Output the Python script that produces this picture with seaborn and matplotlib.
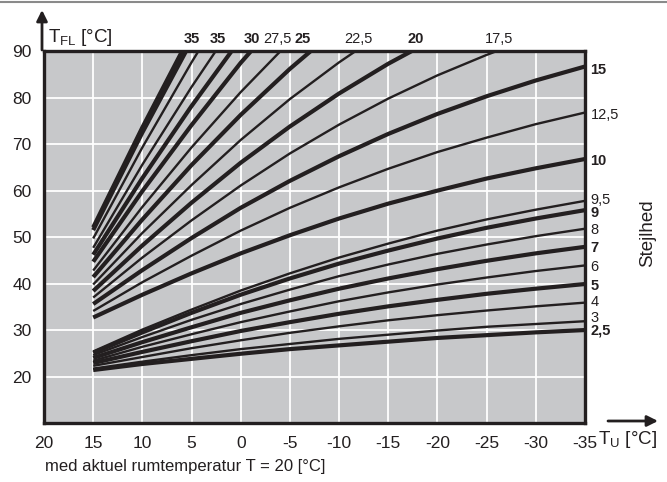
import matplotlib
matplotlib.use('Agg')
import matplotlib.pyplot as plt
from matplotlib.lines import Line2D
import seaborn as sns

outdoor = [15, 10, 5, 0, -5, -10, -15, -20, -25, -30, -35]

# flow temperature for each heating curve ("Stejlhed"), lower family
curve_2_5 = [21.4, 22.7, 23.8, 24.9, 25.9, 26.7, 27.5, 28.3, 28.9, 29.5, 30.0]
curve_3 = [21.7, 23.2, 24.6, 25.9, 27.0, 28.1, 29.0, 29.9, 30.7, 31.3, 31.9]
curve_4 = [22.3, 24.2, 26.1, 27.8, 29.4, 30.8, 32.1, 33.2, 34.2, 35.1, 35.9]
curve_5 = [22.9, 25.3, 27.6, 29.8, 31.7, 33.5, 35.1, 36.5, 37.8, 38.9, 39.9]
curve_6 = [23.4, 26.4, 29.1, 31.7, 34.0, 36.2, 38.1, 39.8, 41.3, 42.7, 43.9]
curve_7 = [24.0, 27.4, 30.6, 33.7, 36.4, 38.9, 41.1, 43.1, 44.9, 46.5, 47.9]
curve_8 = [24.6, 28.5, 32.2, 35.6, 38.7, 41.6, 44.1, 46.4, 48.4, 50.2, 51.8]
curve_9 = [25.1, 29.5, 33.7, 37.6, 41.1, 44.3, 47.1, 49.7, 52.0, 54.0, 55.8]
curve_9_5 = [25.4, 30.1, 34.4, 38.5, 42.2, 45.6, 48.6, 51.4, 53.8, 55.9, 57.8]

# upper family
curve_10 = [32.7, 37.6, 42.2, 46.5, 50.4, 54.0, 57.2, 60.0, 62.6, 64.8, 66.8]
curve_12_5 = [34.1, 40.3, 46.0, 51.4, 56.3, 60.7, 64.7, 68.3, 71.4, 74.3, 76.8]
curve_15 = [35.6, 42.9, 49.8, 56.3, 62.1, 67.4, 72.2, 76.5, 80.3, 83.7, 86.7]
curve_17_5 = [37.0, 45.6, 53.6, 61.1, 68.0, 74.2, 79.8, 84.8, 89.2, 93.2]
curve_20 = [38.4, 48.2, 57.4, 66.0, 73.8, 80.9, 87.3, 93.0]
curve_22_5 = [39.8, 50.9, 61.2, 70.9, 79.7, 87.6, 94.8]
curve_25 = [41.4, 53.8, 65.5, 76.3, 86.2, 95.2]
curve_27_5 = [42.8, 56.5, 69.3, 81.2, 92.1]
curve_30 = [44.7, 59.9, 74.1, 87.5, 99.5]
curve_32_5 = [46.2, 62.7, 78.2, 92.7]
curve_35a = [47.7, 65.6, 82.3, 98.0]
curve_37_5 = [49.7, 69.3, 87.6, 104.8]
curve_35b = [51.5, 72.5, 92.2]
curve_40 = [52.1, 73.6, 93.9]

# (values, bold line)
curves = [
    (curve_2_5, True), (curve_3, False), (curve_4, False), (curve_5, True),
    (curve_6, False), (curve_7, True), (curve_8, False), (curve_9, True),
    (curve_9_5, False), (curve_10, True), (curve_12_5, False), (curve_15, True),
    (curve_17_5, False), (curve_20, True), (curve_22_5, False), (curve_25, True),
    (curve_27_5, False), (curve_30, True), (curve_32_5, True), (curve_35a, False),
    (curve_37_5, False), (curve_35b, True), (curve_40, True),
]

# labels on the right side (at -35) and along the top (at 90)
right_labels = ['2,5', '3', '4', '5', '6', '7', '8', '9', '9,5', '10', '12,5', '15']
right_bold = [True, False, False, True, False, True, False, True, False, True, False, True]
right_label_y = [30.0, 32.7, 36.0, 39.4, 43.5, 47.6, 51.5, 55.1, 57.9, 66.3, 76.3, 86.0]

top_labels = ['35', '35', '30', '27,5', '25', '22,5', '20', '17,5']
top_bold = [True, True, True, False, True, False, True, False]
top_label_x = [5.0, 2.3, -1.1, -3.7, -6.3, -12.0, -17.8, -26.3]

x_ticks = [20, 15, 10, 5, 0, -5, -10, -15, -20, -25, -30, -35]
y_ticks = [20, 30, 40, 50, 60, 70, 80, 90]

ink = '#231f20'
plt.rcParams['font.family'] = ['Liberation Sans', 'DejaVu Sans']
plt.rcParams['mathtext.fontset'] = 'custom'
plt.rcParams['mathtext.rm'] = 'Liberation Sans'

fig = plt.figure(figsize=(6.67, 4.82), dpi=100)
ax = fig.add_axes([0.066, 0.1224, 0.811, 0.7714])
ax.set_facecolor('#c7c8ca')

for vals, bold in curves:
    sns.lineplot(x=outdoor[:len(vals)], y=vals, ax=ax, color=ink,
                 linewidth=3.0 if bold else 1.7, sort=False, estimator=None,
                 solid_capstyle='butt')

ax.set_xlim(20, -35)
ax.set_ylim(10, 90)
ax.set_xticks(x_ticks)
ax.set_xticklabels([str(t) for t in x_ticks])
ax.set_yticks(y_ticks)
ax.set_yticklabels([str(t) for t in y_ticks])
ax.grid(True, color='white', linewidth=1.3)
ax.set_axisbelow(True)
ax.tick_params(length=0, labelsize=12.5, colors=ink, pad=9)
for sp in ax.spines.values():
    sp.set_linewidth(2.4)
    sp.set_color(ink)

for lab, b, y in zip(right_labels, right_bold, right_label_y):
    ax.annotate(lab, xy=(-35, y), xytext=(4, 0), textcoords='offset points',
                va='center', ha='left', fontsize=10.5, color=ink,
                fontweight='bold' if b else 'normal', annotation_clip=False)

for lab, b, x in zip(top_labels, top_bold, top_label_x):
    ax.text(x, 92.6, lab, ha='center', va='center', fontsize=10.5, color=ink,
            fontweight='bold' if b else 'normal', clip_on=False)

# axis captions and arrows
fig.text(648 / 667, 1 - 233 / 482, 'Stejlhed', rotation=90, ha='center',
         va='center', fontsize=13.5, color=ink)
fig.text(48 / 667, 1 - 38 / 482, r'T$_{\mathregular{FL}}$ [°C]', ha='left',
         va='center', fontsize=13.5, color=ink)
fig.text(598 / 667, 1 - 440 / 482, r'T$_{\mathregular{U}}$ [°C]', ha='left',
         va='center', fontsize=13.5, color=ink)
fig.text(45 / 667, 1 - 467 / 482, 'med aktuel rumtemperatur T = 20 [°C]',
         ha='left', va='center', fontsize=12, color=ink)

arrow = dict(arrowstyle='-|>', color=ink, lw=2, mutation_scale=16,
             shrinkA=0, shrinkB=0)
ax.annotate('', xy=(42 / 667, 1 - 10 / 482), xytext=(42 / 667, 1 - 50 / 482),
            xycoords='figure fraction', arrowprops=arrow)
ax.annotate('', xy=(658 / 667, 1 - 421 / 482), xytext=(608 / 667, 1 - 421 / 482),
            xycoords='figure fraction', arrowprops=arrow)

fig.add_artist(Line2D([0, 1], [1 - 1.5 / 482, 1 - 1.5 / 482],
                      transform=fig.transFigure, color='#8a8a8a', lw=1.5))

fig.savefig('out.png', dpi=100)
